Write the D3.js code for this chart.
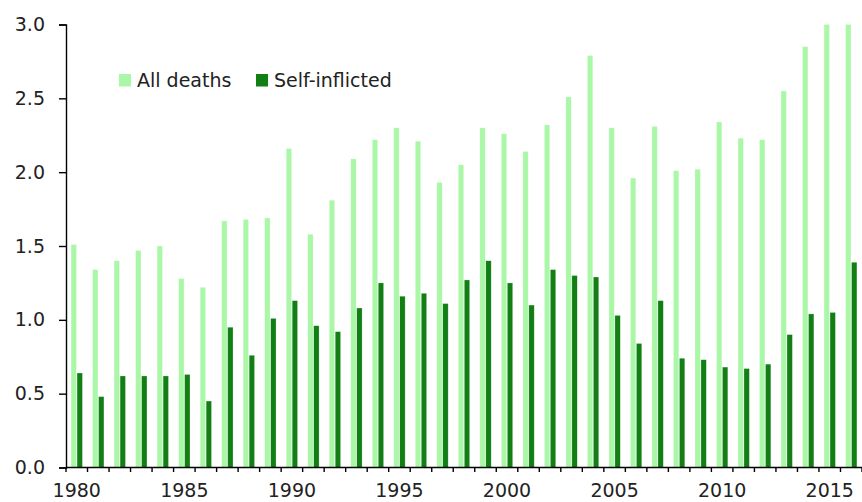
<!DOCTYPE html>
<html><head><meta charset="utf-8">
<script src="https://cdn.jsdelivr.net/npm/d3@7"></script>
<style>html,body{margin:0;padding:0;background:#fff;}svg{display:block;}</style>
</head><body>
<svg id="chart" width="862" height="502"></svg>
<script>
const years = d3.range(1980, 2017);
const allDeaths = [1.51,1.34,1.40,1.47,1.50,1.28,1.22,1.67,1.68,1.69,2.16,1.58,1.81,2.09,2.22,2.30,2.21,1.93,2.05,2.30,2.26,2.14,2.32,2.51,2.79,2.30,1.96,2.31,2.01,2.02,2.34,2.23,2.22,2.55,2.85,3.00,3.00];
const selfInflicted = [0.64,0.48,0.62,0.62,0.62,0.63,0.45,0.95,0.76,1.01,1.13,0.96,0.92,1.08,1.25,1.16,1.18,1.11,1.27,1.40,1.25,1.10,1.34,1.30,1.29,1.03,0.84,1.13,0.74,0.73,0.68,0.67,0.70,0.90,1.04,1.05,1.39];
const seriesNames = ["All deaths", "Self-inflicted"];
const seriesColors = ["#abf7a8", "#127f14"];
const yTicks = [0, 0.5, 1.0, 1.5, 2.0, 2.5, 3.0];
const xLabelYears = [1980,1985,1990,1995,2000,2005,2010,2015];

(function () {
const svg = d3.select("#chart");
const font = "DejaVu Sans, sans-serif";
const pLeft = 66, pRight = 862, pTop = 24.5, pBottom = 467.5;

const x = d3.scaleBand().domain(years).range([pLeft, pRight]).padding(0);
const x1 = d3.scaleBand().domain(seriesNames).range([0, x.bandwidth()]).paddingInner(0.1).paddingOuter(0.85);
const y = d3.scaleLinear().domain([0, 3]).range([pBottom, pTop]);

const data = years.map((yr, i) => ({year: yr, values: [allDeaths[i], selfInflicted[i]]}));

const g = svg.append("g");
g.selectAll("g.yr").data(data).join("g").attr("class", "yr")
  .attr("transform", d => `translate(${x(d.year)},0)`)
  .selectAll("rect").data(d => d.values.map((v, j) => ({v, s: seriesNames[j], c: seriesColors[j]})))
  .join("rect")
  .attr("x", d => x1(d.s))
  .attr("width", x1.bandwidth())
  .attr("y", d => y(d.v))
  .attr("height", d => y(0) - y(d.v))
  .attr("fill", d => d.c)
  .attr("stroke", "#ffffff").attr("stroke-opacity", 0.5).attr("stroke-width", 0.5);

// Y axis
const yAxis = d3.axisLeft(y).tickValues(yTicks).tickFormat(d3.format(".1f")).tickSize(7).tickPadding(14);
const ya = svg.append("g").attr("transform", `translate(${pLeft},0)`).call(yAxis);
ya.select(".domain").attr("stroke", "#000").attr("stroke-width", 1.4);
ya.selectAll(".tick line").attr("stroke", "#000").attr("stroke-width", 1.4);
ya.selectAll("text").attr("font-family", font).attr("font-size", 19).attr("fill", "#222");

// X axis: ticks at band boundaries
const boundaries = years.map(yr => x(yr)).concat([pRight]);
const xa = svg.append("g");
xa.append("line").attr("x1", pLeft).attr("x2", pRight).attr("y1", pBottom).attr("y2", pBottom)
  .attr("stroke", "#000").attr("stroke-width", 1.4);
xa.selectAll("line.tk").data(boundaries).join("line").attr("class", "tk")
  .attr("x1", d => d).attr("x2", d => d).attr("y1", pBottom).attr("y2", pBottom + 4.5)
  .attr("stroke", "#000").attr("stroke-width", 1.4);
xa.selectAll("text").data(xLabelYears).join("text")
  .attr("x", d => x(d) + x.bandwidth() / 2)
  .attr("y", 497)
  .attr("text-anchor", "middle")
  .attr("font-family", font).attr("font-size", 19).attr("fill", "#222")
  .text(d => d);

// Legend
const legendX = [119, 256];
const lg = svg.append("g");
seriesNames.forEach((n, i) => {
  lg.append("rect").attr("x", legendX[i]).attr("y", 74).attr("width", 12).attr("height", 12.5).attr("fill", seriesColors[i]);
  lg.append("text").attr("x", legendX[i] + 18).attr("y", 87)
    .attr("font-family", font).attr("font-size", 19).attr("fill", "#222").text(n);
});
})();
</script>
</body></html>
